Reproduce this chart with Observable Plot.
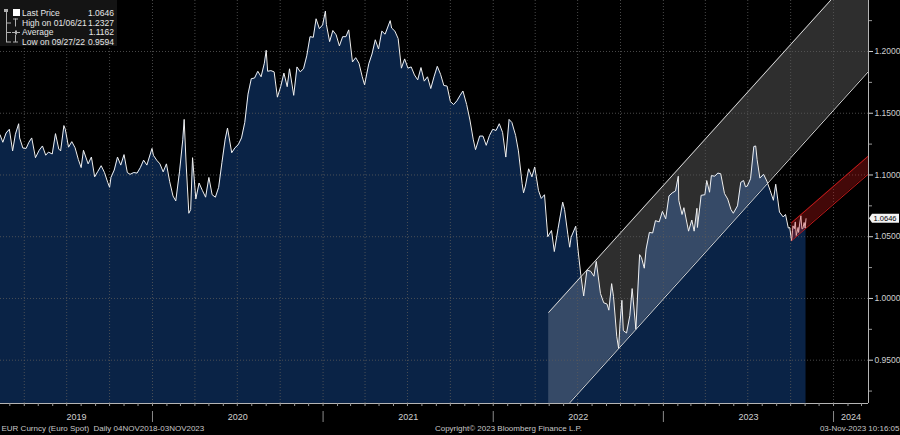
<!DOCTYPE html>
<html>
<head>
<meta charset="utf-8">
<script src="https://cdn.jsdelivr.net/npm/d3@7"></script>
<script src="https://cdn.jsdelivr.net/npm/@observablehq/plot@0.6"></script>
<style>
  html, body { margin: 0; padding: 0; background: #000; }
  #wrap { position: relative; width: 900px; height: 435px; overflow: hidden; background: #000; }
</style>
</head>
<body>
<div id="wrap"></div>
<script>
// ---------------- DATA ----------------
const px2019 = [["2019-02-08",1.1325],["2019-02-14",1.1265],["2019-02-21",1.1340],["2019-02-28",1.1370],["2019-03-07",1.1195],["2019-03-13",1.1330],["2019-03-20",1.1415],["2019-03-22",1.1300],["2019-03-29",1.1218],["2019-04-05",1.1215],["2019-04-11",1.1265],["2019-04-17",1.1300],["2019-04-25",1.1140],["2019-05-03",1.1200],["2019-05-10",1.1235],["2019-05-17",1.1160],["2019-05-23",1.1185],["2019-05-31",1.1170],["2019-06-07",1.1335],["2019-06-14",1.1210],["2019-06-18",1.1195],["2019-06-25",1.1400],["2019-06-28",1.1370],["2019-07-05",1.1225],["2019-07-12",1.1270],["2019-07-19",1.1220],["2019-07-26",1.1125],["2019-08-01",1.1060],["2019-08-06",1.1200],["2019-08-16",1.1090],["2019-08-23",1.1145],["2019-08-30",1.0985],["2019-09-06",1.1030],["2019-09-13",1.1075],["2019-09-20",1.1020],["2019-09-27",1.0940],["2019-10-01",1.0900],["2019-10-04",1.0980],["2019-10-11",1.1040],["2019-10-18",1.1145],["2019-10-25",1.1080],["2019-11-01",1.1165],["2019-11-08",1.1020],["2019-11-14",1.1005],["2019-11-22",1.1020],["2019-11-29",1.1015],["2019-12-06",1.1060],["2019-12-13",1.1120],["2019-12-20",1.1080],["2019-12-31",1.1215]];
const px2020 = [["2020-01-03",1.1160],["2020-01-10",1.1120],["2020-01-17",1.1090],["2020-01-24",1.1025],["2020-01-31",1.1090],["2020-02-07",1.0945],["2020-02-14",1.0830],["2020-02-20",1.0790],["2020-02-28",1.1025],["2020-03-06",1.1285],["2020-03-09",1.1450],["2020-03-13",1.1105],["2020-03-19",1.0690],["2020-03-23",1.0720],["2020-03-27",1.1140],["2020-04-03",1.0805],["2020-04-10",1.0935],["2020-04-17",1.0875],["2020-04-24",1.0820],["2020-05-01",1.0980],["2020-05-08",1.0840],["2020-05-15",1.0820],["2020-05-22",1.0900],["2020-05-29",1.1100],["2020-06-05",1.1290],["2020-06-10",1.1380],["2020-06-19",1.1180],["2020-06-26",1.1220],["2020-07-03",1.1245],["2020-07-10",1.1300],["2020-07-17",1.1425],["2020-07-24",1.1655],["2020-07-31",1.1780],["2020-08-07",1.1785],["2020-08-14",1.1840],["2020-08-21",1.1795],["2020-08-28",1.1905],["2020-09-01",1.2010],["2020-09-04",1.1840],["2020-09-11",1.1845],["2020-09-18",1.1835],["2020-09-25",1.1630],["2020-10-02",1.1715],["2020-10-09",1.1825],["2020-10-16",1.1715],["2020-10-21",1.1860],["2020-10-30",1.1645],["2020-11-06",1.1875],["2020-11-13",1.1835],["2020-11-20",1.1860],["2020-11-27",1.1965],["2020-12-04",1.2120],["2020-12-11",1.2115],["2020-12-17",1.2265],["2020-12-24",1.2185],["2020-12-31",1.2215]];
const px2021 = [["2021-01-06",1.2327],["2021-01-08",1.2220],["2021-01-15",1.2080],["2021-01-22",1.2170],["2021-01-29",1.2135],["2021-02-05",1.2045],["2021-02-12",1.2120],["2021-02-19",1.2120],["2021-02-25",1.2175],["2021-03-05",1.1915],["2021-03-12",1.1950],["2021-03-19",1.1905],["2021-03-26",1.1795],["2021-03-31",1.1730],["2021-04-09",1.1900],["2021-04-16",1.1980],["2021-04-23",1.2095],["2021-04-30",1.2020],["2021-05-07",1.2165],["2021-05-14",1.2140],["2021-05-25",1.2250],["2021-05-28",1.2190],["2021-06-04",1.2165],["2021-06-11",1.2105],["2021-06-18",1.1865],["2021-06-25",1.1940],["2021-07-02",1.1865],["2021-07-09",1.1875],["2021-07-16",1.1810],["2021-07-23",1.1770],["2021-07-30",1.1870],["2021-08-06",1.1760],["2021-08-13",1.1795],["2021-08-20",1.1700],["2021-08-27",1.1795],["2021-09-03",1.1880],["2021-09-10",1.1815],["2021-09-17",1.1725],["2021-09-24",1.1720],["2021-10-01",1.1595],["2021-10-08",1.1570],["2021-10-15",1.1600],["2021-10-22",1.1645],["2021-10-28",1.1680],["2021-11-05",1.1570],["2021-11-12",1.1445],["2021-11-19",1.1290],["2021-11-24",1.1205],["2021-12-03",1.1315],["2021-12-10",1.1315],["2021-12-17",1.1240],["2021-12-24",1.1320],["2021-12-31",1.1370]];
const px2022 = [["2022-01-07",1.1360],["2022-01-14",1.1415],["2022-01-21",1.1345],["2022-01-28",1.1145],["2022-02-04",1.1450],["2022-02-10",1.1425],["2022-02-18",1.1320],["2022-02-24",1.1195],["2022-03-04",1.0930],["2022-03-07",1.0855],["2022-03-11",1.0910],["2022-03-18",1.1050],["2022-03-25",1.0985],["2022-03-31",1.1065],["2022-04-08",1.0875],["2022-04-14",1.0810],["2022-04-21",1.0840],["2022-04-28",1.0500],["2022-05-06",1.0550],["2022-05-12",1.0380],["2022-05-20",1.0565],["2022-05-30",1.0780],["2022-06-03",1.0720],["2022-06-10",1.0520],["2022-06-14",1.0415],["2022-06-17",1.0495],["2022-06-27",1.0585],["2022-07-01",1.0425],["2022-07-08",1.0185],["2022-07-14",1.0020],["2022-07-21",1.0230],["2022-07-29",1.0220],["2022-08-05",1.0180],["2022-08-10",1.0300],["2022-08-19",1.0040],["2022-08-26",0.9965],["2022-09-02",0.9955],["2022-09-06",0.9905],["2022-09-12",1.0120],["2022-09-16",1.0015],["2022-09-23",0.9690],["2022-09-27",0.9594],["2022-09-30",0.9800],["2022-10-04",0.9985],["2022-10-07",0.9740],["2022-10-14",0.9720],["2022-10-21",0.9860],["2022-10-26",1.0080],["2022-11-03",0.9750],["2022-11-11",1.0355],["2022-11-15",1.0330],["2022-11-21",1.0245],["2022-11-25",1.0400],["2022-12-02",1.0535],["2022-12-09",1.0530],["2022-12-15",1.0630],["2022-12-23",1.0620],["2022-12-30",1.0705]];
const px2023 = [["2023-01-06",1.0645],["2023-01-13",1.0830],["2023-01-20",1.0855],["2023-01-27",1.0870],["2023-02-02",1.0990],["2023-02-03",1.0795],["2023-02-10",1.0680],["2023-02-14",1.0735],["2023-02-24",1.0545],["2023-03-03",1.0635],["2023-03-08",1.0545],["2023-03-14",1.0730],["2023-03-15",1.0575],["2023-03-23",1.0835],["2023-03-31",1.0840],["2023-04-04",1.0955],["2023-04-10",1.0860],["2023-04-14",1.0995],["2023-04-21",1.0990],["2023-04-28",1.1015],["2023-05-04",1.1010],["2023-05-12",1.0850],["2023-05-19",1.0805],["2023-05-26",1.0720],["2023-05-31",1.0690],["2023-06-09",1.0750],["2023-06-16",1.0940],["2023-06-22",1.0955],["2023-06-26",1.0905],["2023-06-30",1.0910],["2023-07-07",1.0970],["2023-07-14",1.1230],["2023-07-18",1.1235],["2023-07-21",1.1125],["2023-07-27",1.0975],["2023-08-04",1.1005],["2023-08-11",1.0950],["2023-08-18",1.0875],["2023-08-25",1.0795],["2023-08-30",1.0925],["2023-09-07",1.0700],["2023-09-15",1.0660],["2023-09-20",1.0680],["2023-09-26",1.0570],["2023-09-29",1.0575],["2023-10-03",1.0466],["2023-10-05",1.0550],["2023-10-06",1.0588],["2023-10-09",1.0565],["2023-10-11",1.0620],["2023-10-13",1.0510],["2023-10-17",1.0575],["2023-10-18",1.0535],["2023-10-20",1.0595],["2023-10-23",1.0670],["2023-10-25",1.0565],["2023-10-27",1.0565],["2023-10-30",1.0615],["2023-11-01",1.0570],["2023-11-03",1.0646]];

// Trend channel (white) and short-term channel (red): start/end dates and values
const channelDates = ["2022-04-30", "2024-03-16"];
const channelUpper = [0.9887, 1.2754];
const channelLower = [0.8966, 1.1838];
const redDates = ["2023-10-03", "2024-03-16"];
const redUpper = [1.0613, 1.1154];
const redLower = [1.0468, 1.1008];

// Axis
const xDomain = ["2019-02-09", "2024-03-16"];
const yDomain = [0.91493, 1.24130];
const yTicks = [0.95, 1.00, 1.05, 1.10, 1.15, 1.20];
const yMinorTicks = [0.925, 0.975, 1.025, 1.075, 1.125, 1.175, 1.225];
const yearLabels = ["2019", "2020", "2021", "2022", "2023", "2024"];

// Legend
const legendLabels = ["Last Price", "High on 01/06/21", "Average", "Low on 09/27/22"];
const legendValues = ["1.0646", "1.2327", "1.1162", "0.9594"];
const lastPrice = 1.0646;

const footLeft = "EUR Curncy (Euro Spot)  Daily 04NOV2018-03NOV2023";
const footMid = "Copyright\u00A9 2023 Bloomberg Finance L.P.";
const footRight = "03-Nov-2023 10:16:05";

// ---------------- BUILD ----------------
const parse = d3.utcParse("%Y-%m-%d");
const prices = [...px2019, ...px2020, ...px2021, ...px2022, ...px2023].map(([d, v]) => ({date: parse(d), price: v}));
const channel = channelDates.map((d, i) => ({date: parse(d), lo: channelLower[i], hi: channelUpper[i]}));
const red = redDates.map((d, i) => ({date: parse(d), lo: redLower[i], hi: redUpper[i]}));
const x0 = parse(xDomain[0]), x1 = parse(xDomain[1]);

const quarters = d3.utcMonth.every(3).range(x0, x1);
const months = d3.utcMonth.range(x0, x1);
const yearStarts = d3.utcYear.range(x0, x1);
const years = yearLabels.map(y => {
  const s = new Date(Date.UTC(+y, 0, 1)), e = new Date(Date.UTC(+y + 1, 0, 1));
  const a = s < x0 ? x0 : s, b = e > x1 ? x1 : e;
  return {label: y, mid: new Date((+a + +b) / 2)};
});

const gridColor = "#5a5a5a";
const font = '"Liberation Sans Narrow", "Liberation Sans", Arial, sans-serif';

const plot = Plot.plot({
  width: 900,
  height: 435,
  marginTop: 0,
  marginBottom: 32,
  marginLeft: 0,
  marginRight: 32,
  style: {background: "#000", color: "#d0d0d0", fontFamily: font, fontSize: "9px", overflow: "visible"},
  x: {type: "utc", domain: [x0, x1], axis: null},
  y: {domain: yDomain, axis: null},
  marks: [
    Plot.areaY(prices, {x: "date", y1: yDomain[0], y2: "price", fill: "#0a2346", curve: "linear"}),
    Plot.areaY(channel, {x: "date", y1: "lo", y2: "hi", fill: "#ffffff", fillOpacity: 0.18, clip: true}),
    Plot.ruleX(quarters, {stroke: gridColor, strokeDasharray: "1,2", strokeWidth: 0.8}),
    Plot.ruleY(yTicks, {stroke: gridColor, strokeDasharray: "1,2", strokeWidth: 0.8}),
    Plot.lineY(prices, {x: "date", y: "price", stroke: "#f0f0f0", strokeWidth: 1}),
    Plot.lineY(channel, {x: "date", y: "hi", stroke: "#d6d6d6", strokeWidth: 1, clip: true}),
    Plot.lineY(channel, {x: "date", y: "lo", stroke: "#d6d6d6", strokeWidth: 1, clip: true}),
    Plot.areaY(red, {x: "date", y1: "lo", y2: "hi", fill: "#d01818", fillOpacity: 0.32, clip: true}),
    Plot.lineY(red, {x: "date", y: "hi", stroke: "#c41a1a", strokeWidth: 1, clip: true}),
    Plot.lineY(red, {x: "date", y: "lo", stroke: "#c41a1a", strokeWidth: 1, clip: true}),
    // frame lines
    Plot.ruleX([x1], {stroke: "#b5b5b5", strokeWidth: 1}),
    Plot.ruleY([yDomain[0]], {stroke: "#b5b5b5", strokeWidth: 1}),
    // right axis
    Plot.axisY({anchor: "right", ticks: yTicks, tickFormat: d3.format(".4f"), tickSize: 4, tickPadding: 2, stroke: "#cfcfcf", fill: "#cfcfcf", fontSize: 8.5, label: null}),
    Plot.axisY({anchor: "right", ticks: yMinorTicks, tickSize: 3, stroke: "#9a9a9a", fill: "none", label: null}),
    // bottom axis ticks
    Plot.axisX({anchor: "bottom", ticks: months, tickSize: 3, stroke: "#9a9a9a", fill: "none", label: null}),
    Plot.ruleX(yearStarts, {stroke: "#8a8a8a", insetTop: 392, dy: 19}),
    Plot.text(years, {x: "mid", text: "label", frameAnchor: "bottom", dy: 16, fill: "#d0d0d0", fontSize: 9}),
    // footer
    Plot.text([footLeft], {text: d => d, frameAnchor: "bottom-left", textAnchor: "start", dy: 27, dx: 1, fill: "#c8c8c8", fontSize: 8}),
    Plot.text([footMid], {text: d => d, frameAnchor: "bottom", dx: 74, dy: 27, fill: "#c8c8c8", fontSize: 8}),
    Plot.text([footRight], {text: d => d, frameAnchor: "bottom-right", textAnchor: "end", dx: 31, dy: 27, fill: "#c8c8c8", fontSize: 8})
  ]
});

document.getElementById("wrap").appendChild(plot);

const svg = d3.select(plot);
const ySc = plot.scale("y"), xSc = plot.scale("x");

// Last price tag on the right axis, positioned with the plot's scales
const ly = ySc.apply(lastPrice), lx = xSc.apply(x1);
const tag = svg.append("g").attr("text-anchor", "start");
tag.append("path")
  .attr("d", `M${lx + 1},${ly} L${lx + 4},${ly - 4.5} L${lx + 31},${ly - 4.5} L${lx + 31},${ly + 4.5} L${lx + 4},${ly + 4.5} Z`)
  .attr("fill", "#f4f4f4");
tag.append("text").attr("x", lx + 5.5).attr("y", ly).attr("dy", "0.36em")
  .attr("fill", "#000").attr("font-size", 8)
  .attr("textLength", 23).attr("lengthAdjust", "spacingAndGlyphs")
  .text(legendValues[0]);

// Legend box (top-left)
const lg = svg.append("g").attr("text-anchor", "start").attr("font-size", 8.5);
lg.append("rect").attr("x", 0).attr("y", 0).attr("width", 117).attr("height", 46).attr("fill", "#141414");
const rowY = [12.7, 22.6, 32.2, 41.6];
legendLabels.forEach((lab, i) => {
  lg.append("text").attr("x", 22).attr("y", rowY[i]).attr("dy", "0.36em").attr("fill", "#e6e6e6").text(lab);
  lg.append("text").attr("x", 114).attr("y", rowY[i]).attr("dy", "0.36em").attr("text-anchor", "end").attr("fill", "#e6e6e6").text(legendValues[i]);
});
// legend icons
const ic = (x, y, w, h, c = "#b0b0b0") => lg.append("rect").attr("x", x).attr("y", y).attr("width", w).attr("height", h).attr("fill", c);
ic(4, 9, 4, 3); ic(6, 12, 1, 30);
ic(6, 22.5, 5, 1); ic(6, 32, 5, 1); ic(6, 41.5, 5, 1);
ic(13, 9, 7, 7, "#ffffff");
ic(13, 18.5, 5, 1); ic(15, 18.5, 1, 8);
ic(12, 32, 8, 1); ic(15, 30.5, 2, 4);
ic(15, 35, 1, 7); ic(13, 41.5, 5, 1);
</script>
</body>
</html>
